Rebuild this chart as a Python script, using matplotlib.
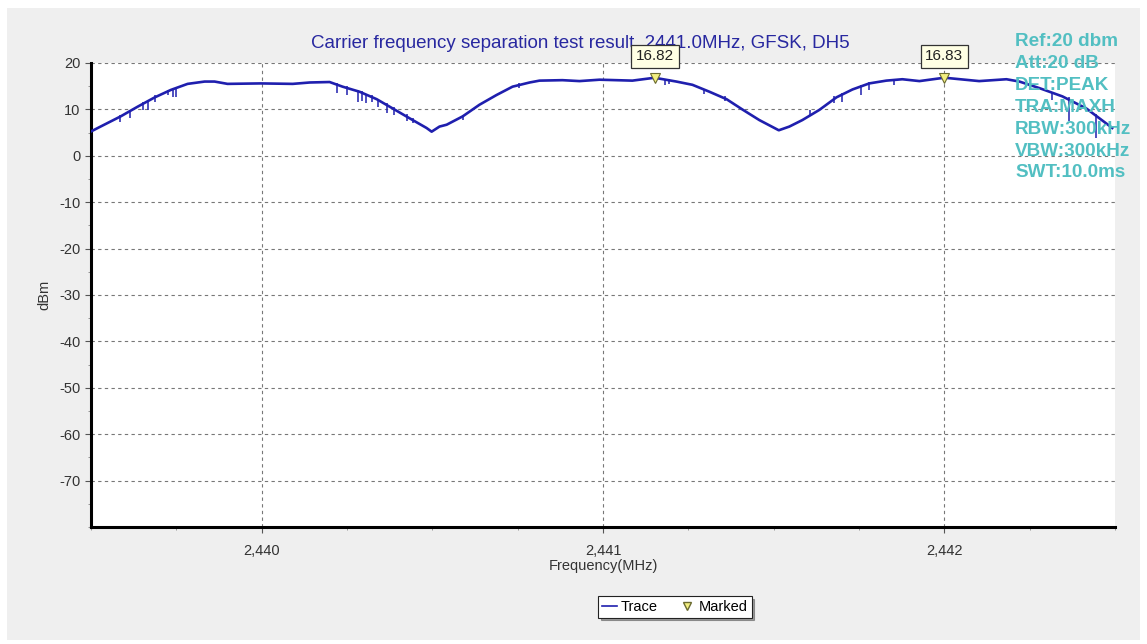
import matplotlib
matplotlib.use("Agg")
import matplotlib.pyplot as plt
from matplotlib.patches import Rectangle
from matplotlib.lines import Line2D
from matplotlib.ticker import MultipleLocator, FuncFormatter

plt.rcParams['font.family'] = ['Liberation Sans', 'DejaVu Sans']
plt.rcParams['axes.unicode_minus'] = False

# Max-hold spectrum trace (MHz, dBm)
freq_mhz = [2439.499, 2439.520, 2439.587, 2439.637, 2439.687, 2439.734, 2439.783,
            2439.833, 2439.862, 2439.900, 2439.997, 2440.091, 2440.141, 2440.199,
            2440.237, 2440.287, 2440.337, 2440.384, 2440.433, 2440.483, 2440.498,
            2440.521, 2440.542, 2440.589, 2440.638, 2440.688, 2440.735, 2440.785,
            2440.814, 2440.881, 2440.931, 2440.990, 2441.086, 2441.151, 2441.215,
            2441.262, 2441.312, 2441.362, 2441.408, 2441.458, 2441.515, 2441.546,
            2441.584, 2441.634, 2441.684, 2441.731, 2441.780, 2441.830, 2441.877,
            2441.927, 2442.000, 2442.102, 2442.182, 2442.220, 2442.278, 2442.346,
            2442.416, 2442.492]
level_dbm = [5.2, 6.0, 8.5, 10.6, 12.6, 14.2, 15.5,
             16.0, 16.0, 15.5, 15.6, 15.5, 15.8, 15.9,
             14.9, 13.8, 12.2, 10.2, 8.1, 6.0, 5.2,
             6.3, 6.7, 8.5, 11.0, 13.1, 14.9, 15.8,
             16.2, 16.3, 16.1, 16.4, 16.2, 16.82, 16.0,
             15.3, 13.8, 12.2, 10.0, 7.7, 5.5, 6.3,
             7.7, 9.9, 12.6, 14.3, 15.6, 16.2, 16.5,
             16.1, 16.83, 16.1, 16.5, 16.0, 14.6, 12.8,
             10.2, 6.0]

# Downward glitches of the trace: frequency, upper and lower level
spike_mhz = [2439.584, 2439.613, 2439.652, 2439.666, 2439.687, 2439.725, 2439.739,
             2439.748, 2440.220, 2440.249, 2440.281, 2440.293, 2440.307, 2440.322,
             2440.340, 2440.366, 2440.389, 2440.425, 2440.442, 2440.589, 2440.755,
             2441.183, 2441.192, 2441.297, 2441.356, 2441.605, 2441.678, 2441.701,
             2441.757, 2441.780, 2441.854, 2442.316, 2442.366, 2442.445]
spike_top = [8.8, 9.8, 11.5, 11.9, 13.0, 14.2, 14.6,
             14.8, 15.6, 15.0, 14.2, 13.9, 13.4, 13.0,
             12.3, 11.4, 10.5, 9.0, 8.2, 8.8, 15.6,
             16.5, 16.5, 14.4, 12.8, 9.9, 12.8, 13.5,
             15.3, 15.8, 16.5, 13.8, 12.6, 9.0]
spike_low = [7.3, 8.2, 9.9, 9.9, 11.7, 13.1, 12.6,
             12.7, 13.5, 13.1, 11.7, 11.9, 11.4, 11.5,
             10.6, 9.3, 8.8, 7.4, 7.0, 7.7, 14.7,
             15.3, 15.5, 13.3, 11.8, 8.8, 11.4, 11.7,
             13.1, 14.2, 15.3, 12.0, 7.4, 3.9]

# Marker readouts
marker_mhz = [2441.152, 2442.000]
marker_dbm = [16.82, 16.83]

y_ticks = [20, 10, 0, -10, -20, -30, -40, -50, -60, -70]
x_ticks = [2440, 2441, 2442]

settings = ["Ref:20 dbm", "Att:20 dB", "DET:PEAK", "TRA:MAXH",
            "RBW:300kHz", "VBW:300kHz", "SWT:10.0ms"]

W, H = 1147, 644
fig = plt.figure(figsize=(W / 100, H / 100), dpi=100, facecolor='white')
fig.patches.append(Rectangle((7 / W, 4 / H), 1133 / W, 632 / H, transform=fig.transFigure,
                             facecolor='#efefef', edgecolor='none', zorder=-10))

ax = fig.add_axes([91 / W, 1 - 527 / H, (1115 - 91) / W, (527 - 63) / H])
ax.set_facecolor('white')
trace_color = '#1f1fae'

ax.plot(freq_mhz, level_dbm, color=trace_color, lw=1.9, zorder=3)
ax.vlines(spike_mhz, spike_low, spike_top, color=trace_color, lw=1.1, zorder=3)
ax.plot(marker_mhz, marker_dbm, linestyle='none', marker='v', markersize=7,
        markerfacecolor='#f2ee80', markeredgecolor='#6b6b30', markeredgewidth=0.8, zorder=5)

for mx, my in zip(marker_mhz, marker_dbm):
    ax.annotate(f"{my:.2f}", xy=(mx, my), xytext=(0, 15.5), textcoords='offset points',
                ha='center', va='center', fontsize=11, color='#222222',
                bbox=dict(boxstyle='square,pad=0.3', facecolor='#ffffe4',
                          edgecolor='#333333', lw=0.9),
                annotation_clip=False, zorder=6)

ax.set_xlim(2439.5, 2442.5)
ax.set_ylim(-80, 20)
ax.set_xticks(x_ticks)
ax.set_yticks(y_ticks)
ax.xaxis.set_minor_locator(MultipleLocator(0.25))
ax.yaxis.set_minor_locator(MultipleLocator(5))
ax.xaxis.set_major_formatter(FuncFormatter(lambda v, p: f"{v:,.0f}"))
ax.tick_params(axis='both', which='major', length=4, width=0.8, color='#555555',
               labelsize=10.5, labelcolor='#333333')
ax.tick_params(axis='both', which='minor', length=2.5, width=0.6, color='#888888')
ax.tick_params(axis='x', which='major', pad=8)

ax.grid(True, which='major', linestyle=(0, (3, 3)), color='#777777', lw=0.8)
for side in ('top', 'right'):
    ax.spines[side].set_visible(False)
for side in ('left', 'bottom'):
    ax.spines[side].set_linewidth(2.2)
    ax.spines[side].set_color('black')

ax.set_xlabel("Frequency(MHz)", fontsize=10.5, color='#333333', labelpad=1)
ax.set_ylabel("dBm", fontsize=10.5, color='#333333', labelpad=6)

# Title sits beneath the axes so the marker readout boxes cover it
fig.text(580 / W, 1 - 44 / H, "Carrier frequency separation test result, 2441.0MHz, GFSK, DH5",
         ha='center', va='center', fontsize=13.5, color='#2828a0', zorder=-1)

for i, s in enumerate(settings):
    fig.text(1015 / W, 1 - (41 + i * 22) / H, s, ha='left', va='center',
             fontsize=13.6, fontweight='bold', color='#52bfc2', zorder=10)

handles = [Line2D([], [], color=trace_color, lw=1.2),
           Line2D([], [], linestyle='none', marker='v', markersize=6,
                  markerfacecolor='#f2ee80', markeredgecolor='#6b6b30')]
leg = fig.legend(handles, ["Trace", "Marked"], loc='center', bbox_to_anchor=(675 / W, 1 - 607 / H),
                 ncol=2, frameon=True, fancybox=False, shadow=True, fontsize=10.5,
                 handlelength=1.0, handletextpad=0.3, columnspacing=1.5,
                 borderpad=0.25, borderaxespad=0)
leg.get_frame().set_edgecolor('#222222')
leg.get_frame().set_linewidth(0.8)

fig.savefig("out.png", dpi=100, facecolor=fig.get_facecolor())
